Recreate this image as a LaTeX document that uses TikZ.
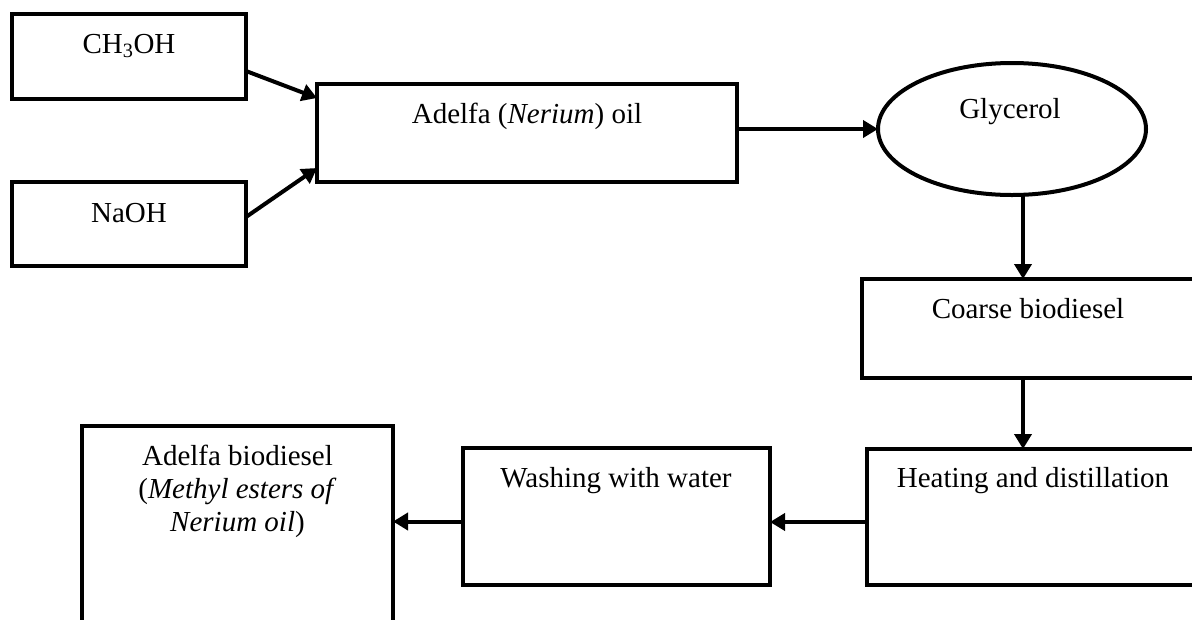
\documentclass[tikz,border=0pt]{standalone}
\usepackage{fontspec}
\setmainfont{Liberation Serif}
\usetikzlibrary{arrows.meta,shapes.geometric}
\begin{document}
\begin{tikzpicture}[x=1pt,y=-1pt,
  box/.style={draw,line width=4pt,rectangle,inner sep=0pt,outer sep=0pt,anchor=north west},
  oval/.style={draw,line width=4pt,ellipse,inner sep=0pt,outer sep=0pt},
  txt/.style={anchor=base,inner sep=0pt,font=\fontsize{29}{33}\selectfont,align=center},
  arr/.style={line width=4pt,-{Triangle[length=15pt,width=17pt]}}]
\useasboundingbox (0,0) rectangle (1192,619);
\clip (0,0) rectangle (1192,619);
\fill[white] (0,0) rectangle (1192,619);
% boxes
\node[box,minimum width=234pt,minimum height=85pt] (ch) at (12,14) {};
\node[box,minimum width=234pt,minimum height=84pt] (na) at (12,182) {};
\node[box,minimum width=420pt,minimum height=98pt] (oil) at (317,84) {};
\node[oval,minimum width=268pt,minimum height=132pt] (gly) at (1012,129) {};
\node[box,minimum width=332pt,minimum height=99pt] (coarse) at (862,279) {};
\node[box,minimum width=332pt,minimum height=136pt] (heat) at (867,449) {};
\node[box,minimum width=307pt,minimum height=137pt] (wash) at (463,448) {};
\node[box,minimum width=311pt,minimum height=250pt] (bio) at (82,426) {};
% texts
\node[txt] (tch) at (129,53) {CH\textsubscript{3}OH};
\node[txt] (tna) at (129,222) {NaOH};
\node[txt] (toil) at (527,123) {Adelfa (\textit{Nerium}) oil};
\node[txt] (tgly) at (1010,118) {Glycerol};
\node[txt] (tcoarse) at (1028,318) {Coarse biodiesel};
\node[txt] (theat) at (1033,487) {Heating and distillation};
\node[txt] (twash) at (616,487) {Washing with water};
\node[txt] (tbio) at (237.5,531) {Adelfa biodiesel\\(\textit{Methyl esters of}\\\textit{Nerium oil})};
% arrows
\draw[arr] ([yshift=-14.5pt]ch.east) -- ([yshift=35pt]oil.west);
\draw[arr] ([yshift=7pt]na.east) -- ([yshift=-35pt]oil.west);
\draw[arr] ([yshift=4pt]oil.east) -- (gly.west);
\draw[arr] ([xshift=11pt]gly.south) -- ([xshift=11pt]gly.south |- coarse.north);
\draw[arr] ([xshift=-5pt]coarse.south) -- ([xshift=-5pt]coarse.south |- heat.north);
\draw[arr] ([yshift=-5pt]heat.west) -- ([yshift=-5pt]heat.west -| wash.east);
\draw[arr] ([yshift=-5pt]wash.west) -- ([yshift=-5pt]wash.west -| bio.east);
\end{tikzpicture}
\end{document}
